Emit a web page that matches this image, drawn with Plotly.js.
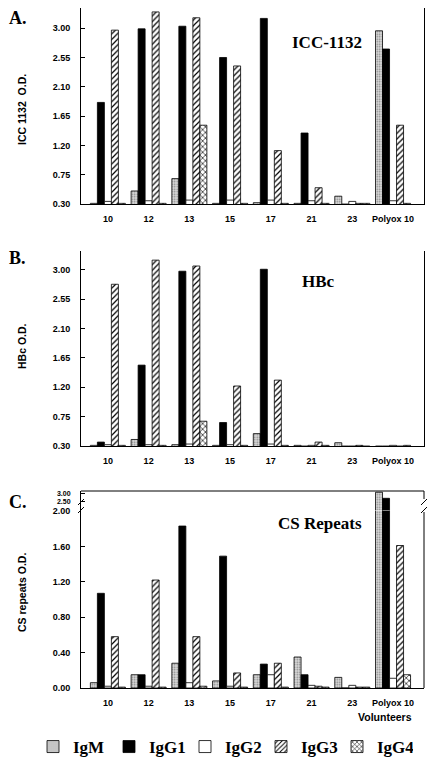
<!DOCTYPE html>
<html>
<head>
<meta charset="utf-8">
<script src="https://cdn.plot.ly/plotly-3.0.1.min.js"></script>
<style>html,body{margin:0;padding:0;background:#fff;}#chart{width:431px;height:764px;}</style>
</head>
<body>
<div id="chart"></div>
<script>
// ---- data ----
const categories = ["10", "12", "13", "15", "17", "21", "23", "Polyox 10"];
const seriesNames = ["IgM", "IgG1", "IgG2", "IgG3", "IgG4"];

// Panel A: ICC-1132 O.D.
const iccIgM  = [0.31, 0.50, 0.69, 0.31, 0.32, 0.31, 0.42, 2.96];
const iccIgG1 = [1.86, 2.99, 3.03, 2.55, 3.15, 1.39, 0.30, 2.68];
const iccIgG2 = [0.34, 0.35, 0.36, 0.36, 0.36, 0.35, 0.34, 0.35];
const iccIgG3 = [2.97, 3.25, 3.16, 2.42, 1.12, 0.55, 0.31, 1.51];
const iccIgG4 = [0.31, 0.31, 1.51, 0.31, 0.31, 0.31, 0.31, 0.31];

// Panel B: HBc O.D.
const hbcIgM  = [0.31, 0.40, 0.32, 0.31, 0.49, 0.31, 0.35, 0.30];
const hbcIgG1 = [0.36, 1.54, 2.98, 0.66, 3.01, 0.30, 0.30, 0.30];
const hbcIgG2 = [0.32, 0.32, 0.33, 0.32, 0.33, 0.31, 0.30, 0.31];
const hbcIgG3 = [2.78, 3.15, 3.06, 1.22, 1.31, 0.36, 0.31, 0.30];
const hbcIgG4 = [0.31, 0.31, 0.68, 0.31, 0.31, 0.31, 0.30, 0.31];

// Panel C: CS repeats O.D.
const csIgM  = [0.06, 0.15, 0.28, 0.08, 0.15, 0.35, 0.12, 3.05];
const csIgG1 = [1.07, 0.15, 1.83, 1.49, 0.27, 0.15, 0.00, 2.70];
const csIgG2 = [0.02, 0.02, 0.06, 0.02, 0.15, 0.03, 0.03, 0.11];
const csIgG3 = [0.58, 1.22, 0.58, 0.17, 0.28, 0.02, 0.01, 1.61];
const csIgG4 = [0.01, 0.01, 0.02, 0.01, 0.01, 0.01, 0.01, 0.15];

const iccTicks = [0.30, 0.75, 1.20, 1.65, 2.10, 2.55, 3.00];
const hbcTicks = [0.30, 0.75, 1.20, 1.65, 2.10, 2.55, 3.00];
const csLowTicks = [0.00, 0.40, 0.80, 1.20, 1.60, 2.00];
const csHighTicks = [2.50, 3.00];

// ---- styling ----
const W = 431, H = 764;
const px = v => v / W;
const py = v => 1 - v / H;

const styles = {
  IgM:  {color: '#d4d4d4', pattern: {shape: '.', fgcolor: '#808080', bgcolor: '#dadada', size: 2.5, solidity: 0.3}},
  IgG1: {color: '#000000'},
  IgG2: {color: '#ffffff'},
  IgG3: {color: '#ffffff', pattern: {shape: '/', fgcolor: '#000', bgcolor: '#fff', size: 4, solidity: 0.3}},
  IgG4: {color: '#ffffff', pattern: {shape: 'x', fgcolor: '#000', bgcolor: '#fff', size: 4, solidity: 0.3}}
};

function bar(name, vals, xa, ya, showlegend) {
  const s = styles[name];
  const marker = {color: s.color, line: {color: '#000', width: 0.8}};
  if (s.pattern) marker.pattern = s.pattern;
  return {type: 'bar', name: name, x: categories, y: vals, xaxis: xa, yaxis: ya,
          marker: marker, showlegend: showlegend, legendgroup: name, hoverinfo: 'skip'};
}

const panels = [
  {data: [iccIgM, iccIgG1, iccIgG2, iccIgG3, iccIgG4], xa: 'x', ya: 'y', legend: true},
  {data: [hbcIgM, hbcIgG1, hbcIgG2, hbcIgG3, hbcIgG4], xa: 'x2', ya: 'y2', legend: false},
  {data: [csIgM, csIgG1, csIgG2, csIgG3, csIgG4], xa: 'x3', ya: 'y3', legend: false},
  {data: [csIgM, csIgG1, csIgG2, csIgG3, csIgG4], xa: 'x4', ya: 'y4', legend: false}
];
const traces = [];
panels.forEach(p => p.data.forEach((vals, i) => traces.push(bar(seriesNames[i], vals, p.xa, p.ya, p.legend))));

const tickFont = {family: 'Liberation Sans, Arial, sans-serif', size: 9, color: '#000', weight: 'bold'};
const smallTickFont = Object.assign({}, tickFont, {size: 7});
const xdom = [px(81), px(424)];
const xrange = [-0.66, 7.76];

function xaxis(anchor, visible) {
  return {domain: xdom, range: xrange, anchor: anchor, type: 'category', visible: visible,
          showgrid: false, zeroline: false, showline: true, linecolor: '#000', linewidth: 1,
          mirror: false, ticks: '', tickfont: tickFont, ticklabelstandoff: 6, fixedrange: true};
}
function yaxis(anchor, dom, range, tickvals, mirror, font) {
  return {domain: dom, range: range, anchor: anchor, tickvals: tickvals, tickformat: '.2f',
          showgrid: false, zeroline: false, showline: true, linecolor: '#000', linewidth: 1,
          mirror: mirror, ticks: 'inside', ticklen: 4, tickcolor: '#000', tickfont: font || tickFont,
          ticklabelstandoff: 8, fixedrange: true};
}

const serif = {family: 'Liberation Serif, Times New Roman, serif', color: '#000', weight: 'bold'};
const sans = {family: 'Liberation Sans, Arial, sans-serif', color: '#000', weight: 'bold'};

function ann(text, x, y, font, extra) {
  return Object.assign({text: text, xref: 'paper', yref: 'paper', x: px(x), y: py(y),
    showarrow: false, font: font, xanchor: 'center', yanchor: 'middle'}, extra || {});
}

const cTop = 491, cBreak = 511, cBottom = 688;
const annotations = [
  ann('A.', 7, 18, Object.assign({size: 18}, serif), {xanchor: 'left'}),
  ann('B.', 7, 258, Object.assign({size: 18}, serif), {xanchor: 'left'}),
  ann('C.', 7, 502, Object.assign({size: 18}, serif), {xanchor: 'left'}),
  ann('ICC-1132', 327, 42, Object.assign({size: 17}, serif)),
  ann('HBc', 318, 281, Object.assign({size: 17}, serif)),
  ann('CS Repeats', 320, 523, Object.assign({size: 17}, serif)),
  ann('ICC 1132  O.D.', 22, 110, Object.assign({size: 10.5}, sans), {textangle: -90}),
  ann('HBc O.D.', 22, 346, Object.assign({size: 10.5}, sans), {textangle: -90}),
  ann('CS repeats O.D.', 22, 593, Object.assign({size: 10.5}, sans), {textangle: -90}),
  ann('Volunteers', 385, 717, Object.assign({size: 10.5}, sans))
];

const L = {color: '#000', width: 1};
const shapes = [
  // frame of panel C
  {type: 'line', xref: 'paper', yref: 'paper', x0: px(81), x1: px(424), y0: py(cTop), y1: py(cTop), line: L},
  {type: 'line', xref: 'paper', yref: 'paper', x0: px(424), x1: px(424), y0: py(cTop), y1: py(499), line: L},
  {type: 'line', xref: 'paper', yref: 'paper', x0: px(424), x1: px(424), y0: py(512), y1: py(cBottom), line: L},
  // break marks
  {type: 'line', xref: 'paper', yref: 'paper', x0: px(78), x1: px(84), y0: py(505), y1: py(499), line: L},
  {type: 'line', xref: 'paper', yref: 'paper', x0: px(78), x1: px(84), y0: py(513), y1: py(507), line: L},
  {type: 'line', xref: 'paper', yref: 'paper', x0: px(421), x1: px(427), y0: py(505), y1: py(499), line: L},
  {type: 'line', xref: 'paper', yref: 'paper', x0: px(421), x1: px(427), y0: py(513), y1: py(507), line: L}
];

const layout = {
  width: W, height: H,
  margin: {l: 0, r: 0, t: 0, b: 0, autoexpand: false},
  paper_bgcolor: '#fff', plot_bgcolor: 'rgba(0,0,0,0)',
  barmode: 'group', bargap: 0.14, bargroupgap: 0,
  xaxis: xaxis('y', true),
  yaxis: yaxis('x', [py(204), py(8)], [0.30, 3.31], iccTicks, true),
  xaxis2: xaxis('y2', true),
  yaxis2: yaxis('x2', [py(446), py(251)], [0.30, 3.29], hbcTicks, true),
  xaxis3: xaxis('y3', true),
  yaxis3: yaxis('x3', [py(cBottom), py(cBreak)], [0, 2.0], csLowTicks, false),
  xaxis4: Object.assign(xaxis('y4', false), {matches: 'x3'}),
  yaxis4: yaxis('x4', [py(cBreak - 0.5), py(cTop)], [2.0, 3.12], csHighTicks, false, smallTickFont),
  showlegend: true,
  legend: {orientation: 'h', x: px(33), y: py(747), xanchor: 'left', yanchor: 'middle',
           font: Object.assign({size: 17}, serif), entrywidth: 31, entrywidthmode: 'pixels',
           traceorder: 'normal', bgcolor: 'rgba(0,0,0,0)'},
  annotations: annotations,
  shapes: shapes
};

Plotly.newPlot('chart', traces, layout, {staticPlot: true, displayModeBar: false});
</script>
</body>
</html>
